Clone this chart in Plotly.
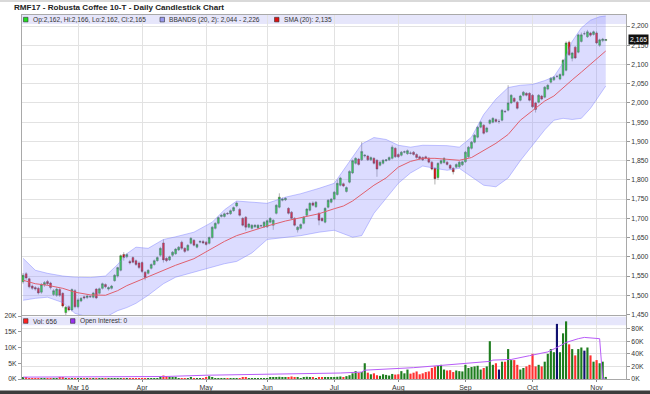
import plotly.graph_objects as go
import pandas as pd

# ---------------- data ----------------
opens = [1535,1556,1543,1524,1520,1518,1508,1527,1536,1532,1502,1500,1515,1505,1455,1470,1462,1512,
         1470,1485,1496,1494,1497,1495,1516,1505,1518,1528,1516,1518,1538,1550,1565,1606,1600,1588,1598,1590,1584,
         1585,1560,1557,1570,1580,1590,1604,1636,1596,1592,1604,1608,1618,1638,1622,1617,1635,1643,1625,1638,1640,
         1638,1635,1650,1674,1687,1705,1705,1713,1712,1720,1732,1723,1700,1703,1677,1674,1678,1675,1680,1678,
         1678,1690,1682,1713,1729,1747,1748,1726,1716,1700,1670,1674,1687,1708,1721,1740,1730,1713,1700,1690,1729,1742,
         1750,1762,1786,1790,1770,1794,1818,1843,1854,1852,1862,1862,1852,1856,1851,1838,1843,1850,1852,1856,1882,
         1866,1864,1872,1868,1870,1872,1866,1860,1858,1860,1856,1846,1830,1806,1843,1845,1846,1838,1830,1833,1834,1839,
         1847,1860,1882,1898,1911,1937,1942,1925,1947,1950,1957,1952,1955,1978,1981,2000,2012,2002,2007,2020,2025,2025,
         2020,2000,2002,2018,2015,2036,2054,2060,2069,2062,2072,2085,2158,2116,2145,2132,2160,2180,2172,2182,2178,
         2182,2150,2162,2162]
highs = [1558,1560,1546,1528,1524,1522,1532,1537,1540,1535,1516,1520,1519,1508,1472,1474,1518,1516,
         1492,1496,1499,1501,1500,1509,1519,1520,1533,1531,1523,1527,1555,1574,1606,1612,1609,1592,1601,1593,1588,
         1588,1563,1568,1583,1593,1601,1626,1645,1599,1603,1615,1623,1628,1642,1625,1633,1651,1646,1635,1643,1644,
         1641,1653,1680,1690,1705,1711,1715,1716,1723,1731,1744,1727,1703,1706,1688,1685,1685,1685,1684,1693,
         1697,1703,1698,1737,1765,1754,1755,1729,1719,1703,1680,1687,1706,1727,1742,1744,1745,1716,1703,1729,1750,1753,
         1771,1800,1808,1793,1783,1825,1853,1859,1857,1898,1867,1865,1861,1859,1854,1849,1854,1854,1861,1890,1885,
         1869,1875,1876,1879,1874,1875,1869,1863,1861,1863,1859,1849,1833,1846,1853,1859,1849,1841,1833,1843,1849,1850,
         1875,1888,1901,1919,1940,1953,1945,1938,1958,1963,1960,1958,1984,1982,2046,2023,2015,2005,2021,2031,2028,2028,
         2023,2003,2023,2021,2044,2049,2067,2070,2073,2077,2114,2160,2162,2133,2148,2180,2183,2186,2190,2185,2188,
         2186,2167,2169,2166]
lows = [1530,1540,1518,1514,1512,1502,1504,1522,1526,1515,1498,1496,1496,1468,1448,1458,1458,1466,
        1466,1482,1489,1490,1493,1492,1490,1502,1515,1518,1512,1515,1535,1546,1562,1590,1596,1580,1583,1576,1568,
        1558,1539,1554,1567,1577,1587,1600,1585,1586,1589,1600,1605,1615,1618,1610,1614,1632,1627,1622,1635,1633,
        1629,1632,1647,1671,1684,1702,1702,1709,1709,1717,1729,1705,1679,1668,1674,1671,1675,1672,1677,1675,
        1675,1687,1670,1710,1726,1744,1745,1710,1697,1679,1663,1671,1684,1705,1718,1731,1727,1682,1691,1687,1726,1739,
        1747,1759,1783,1781,1767,1791,1815,1840,1837,1849,1858,1849,1849,1840,1808,1835,1840,1847,1849,1853,1857,
        1857,1861,1869,1865,1866,1863,1855,1852,1849,1853,1843,1825,1788,1800,1840,1842,1837,1827,1814,1830,1831,1836,
        1844,1857,1879,1895,1908,1934,1918,1922,1944,1947,1949,1946,1952,1975,1978,1997,2001,1983,2004,2017,2017,2004,
        1987,1975,1999,2007,2012,2033,2051,2057,2065,2059,2069,2082,2122,2108,2114,2129,2157,2176,2169,2172,2175,
        2153,2146,2158,2162]
closes = [1552,1545,1522,1518,1516,1506,1528,1533,1530,1520,1512,1516,1500,1472,1469,1462,1515,1470,
          1488,1492,1493,1498,1496,1506,1493,1517,1530,1522,1520,1524,1552,1572,1603,1598,1606,1584,1586,1580,1572,
          1562,1546,1565,1580,1590,1598,1622,1592,1590,1600,1612,1620,1625,1622,1614,1630,1648,1630,1632,1640,1636,
          1632,1650,1677,1687,1702,1708,1712,1712,1720,1728,1740,1708,1682,1677,1685,1682,1682,1682,1681,1690,
          1694,1700,1695,1734,1755,1750,1752,1713,1700,1682,1677,1684,1703,1724,1739,1734,1742,1695,1694,1726,1747,1750,
          1768,1791,1805,1784,1780,1822,1850,1856,1840,1874,1864,1852,1858,1843,1828,1846,1851,1852,1858,1885,1860,
          1860,1872,1873,1876,1869,1866,1858,1855,1852,1856,1846,1828,1803,1843,1850,1856,1840,1830,1821,1840,1846,1847,
          1872,1885,1898,1916,1937,1950,1921,1935,1955,1960,1952,1952,1981,1977,2000,2020,2004,1986,2018,2028,2020,2007,
          1990,1983,2020,2010,2041,2046,2064,2067,2069,2074,2111,2156,2125,2130,2117,2177,2177,2180,2185,2176,2185,
          2156,2164,2166,2165]
volumes = [500,600,150,100,120,80,200,100,90,150,300,200,350,400,300,250,200,300,
           250,150,200,100,150,80,200,120,100,150,200,100,80,120,200,100,150,250,120,100,150,
           150,200,100,150,120,300,600,1100,900,700,500,400,300,200,300,250,400,200,300,150,250,
           400,900,500,300,200,250,300,200,150,200,300,250,350,400,300,200,250,300,200,150,
           300,400,500,600,700,500,400,600,800,500,400,300,600,700,500,400,300,350,400,450,500,600,
           500,700,800,600,900,1200,1800,2500,2000,2200,5000,2000,1500,1800,1200,1000,1500,1300,1100,1600,1400,
           1500,2500,1800,3000,1700,2000,2400,1500,1800,2200,2400,3500,4000,4200,4500,3000,2700,2800,2200,2700,2500,2400,
           4500,3500,3800,4000,4200,3000,3500,4000,12000,4500,5000,3000,5500,5500,9500,6000,6000,4500,3000,3500,4000,4500,
           8000,4000,4500,4000,5500,8000,9500,8500,17500,8500,14500,18300,11000,9500,7500,9500,10000,9000,10000,7500,5500,
           6000,5000,5500,656]

holidays = ["2016-03-25", "2016-03-28", "2016-05-02", "2016-05-30", "2016-08-29"]
first_day, last_day = "2016-02-04", "2016-11-04"

# indicator readings (trading-day index -> value)
ind_idx  = [0,4,8,13,17,22,27,31,34,37,41,46,50,56,62,66,70,75,80,86,91,97,102,105,108,111,115,119,123,127,
            131,135,139,143,147,151,155,159,163,167,171,174,177,180,183,186,189,191]
sma_vals = [1539,1530,1526,1518,1508,1501,1500,1512,1525,1535,1550,1565,1578,1595,1622,1640,1655,1668,1680,1693,
            1702,1712,1725,1732,1745,1762,1786,1805,1833,1848,1856,1856,1853,1851,1858,1876,1895,1918,1955,1980,
            2005,2018,2040,2060,2080,2100,2120,2135]
bb_upper = [1596,1565,1557,1550,1547,1546,1550,1580,1608,1625,1622,1645,1652,1664,1690,1722,1745,1742,1739,1755,
            1764,1778,1791,1825,1859,1893,1910,1905,1890,1885,1890,1890,1889,1885,1911,1970,2010,2040,2046,2048,
            2058,2068,2104,2160,2195,2215,2224,2226]
bb_lower = [1487,1492,1495,1481,1453,1442,1443,1460,1468,1479,1500,1530,1547,1560,1572,1582,1588,1610,1645,1651,
            1655,1664,1669,1660,1651,1655,1713,1752,1791,1818,1836,1830,1825,1830,1807,1786,1782,1805,1850,1890,
            1930,1955,1960,1957,1960,1986,2020,2044]

oi_idx  = [0,47,60,81,104,111,112,128,142,153,154,160,166,172,175,178,182,184,189,190,191]
oi_vals = [3000,4000,6000,7500,9500,11000,14000,18000,24000,28000,30000,31000,37000,43000,50000,58000,64000,66000,64000,0,0]

month_labels = ["Mar 16", "Apr", "May", "Jun", "Jul", "Aug", "Sep", "Oct", "Nov"]
price_ticks = list(range(1450, 2201, 50))
vol_ticks = [0, 5000, 10000, 15000, 20000]
vol_tick_text = ["0K", "5K", "10K", "15K", "20K"]
oi_ticks = [0, 20000, 40000, 60000, 80000]
oi_tick_text = ["0K", "20K", "40K", "60K", "80K"]

# ---------------- build ----------------
dates = [d.strftime("%Y-%m-%d") for d in pd.bdate_range(first_day, last_day)
         if d.strftime("%Y-%m-%d") not in holidays]
assert len(dates) == len(opens) == len(closes) == len(highs) == len(lows) == len(volumes)

month_firsts = []
prev = dates[0][:7]
for d in dates[1:]:
    if d[:7] != prev:
        month_firsts.append(d)
        prev = d[:7]

ind_x = [dates[i] for i in ind_idx]
oi_x = [dates[i] for i in oi_idx]

vol_colors = []
for o, c in zip(opens, closes):
    if c > o:
        vol_colors.append("#1e7d1e")
    elif c < o:
        vol_colors.append("#ff3030")
    else:
        vol_colors.append("#101070")

W, H = 650, 394
ML, MR, MT, MB = 22, 24, 15, 15
PW, PH = W - ML - MR, H - MT - MB


def px(x):
    return (x - ML) / PW


def py(y):
    return (H - MB - y) / PH


FONT = "Liberation Sans, Arial, sans-serif"
GRID = "#e2e2e2"
BORDER = "#a9a9a9"

fig = go.Figure()

fig.add_trace(go.Scatter(x=ind_x, y=bb_upper, mode="lines",
                         line=dict(color="rgba(120,125,255,0.55)", width=0.8),
                         xaxis="x", yaxis="y", hoverinfo="skip", showlegend=False))
fig.add_trace(go.Scatter(x=ind_x, y=bb_lower, mode="lines", fill="tonexty",
                         fillcolor="rgba(140,140,255,0.30)",
                         line=dict(color="rgba(120,125,255,0.55)", width=0.8),
                         xaxis="x", yaxis="y", hoverinfo="skip", showlegend=False))
fig.add_trace(go.Scatter(x=ind_x, y=sma_vals, mode="lines",
                         line=dict(color="#e0606e", width=1),
                         xaxis="x", yaxis="y", showlegend=False))
fig.add_trace(go.Candlestick(x=dates, open=opens, high=highs, low=lows, close=closes,
                             increasing=dict(fillcolor="#1fe01f", line=dict(color="#3a3a3a", width=0.4)),
                             decreasing=dict(fillcolor="#f01010", line=dict(color="#3a3a3a", width=0.4)),
                             whiskerwidth=0, xaxis="x", yaxis="y", showlegend=False))
fig.add_trace(go.Bar(x=dates, y=volumes, marker=dict(color=vol_colors, line=dict(width=0)),
                     xaxis="x2", yaxis="y2", showlegend=False))
fig.add_trace(go.Scatter(x=oi_x, y=oi_vals, mode="lines",
                         line=dict(color="#b85cf8", width=1),
                         xaxis="x2", yaxis="y3", showlegend=False))

main_bottom = py(315)
vol_top = py(316)
xrange_ = [-0.36, -0.36 + PW / 3.0505]

common_x = dict(type="category", categoryorder="array", categoryarray=dates,
                range=xrange_, tickvals=month_firsts, showgrid=True, gridcolor=GRID,
                gridwidth=1, showline=True, mirror=True, linecolor=BORDER, linewidth=1,
                zeroline=False, fixedrange=True, automargin=False)

fig.update_layout(
    width=W, height=H,
    margin=dict(l=ML, r=MR, t=MT, b=MB, pad=0, autoexpand=False),
    paper_bgcolor="white", plot_bgcolor="white",
    font=dict(family=FONT, size=7, color="#333"),
    showlegend=False, bargap=0.3, boxgap=0.12,
    xaxis=dict(common_x, domain=[0, 1], anchor="y", showticklabels=False,
               rangeslider=dict(visible=False), ticks=""),
    xaxis2=dict(common_x, domain=[0, 1], anchor="y2", matches="x", showticklabels=True,
                ticktext=month_labels, ticks="outside", ticklen=2, tickcolor="#888",
                tickfont=dict(size=7, color="#333")),
    yaxis=dict(domain=[main_bottom, 1], anchor="x", side="right",
               range=[1448.7, 2228.6], tickvals=price_ticks, tickformat=",d",
               showgrid=True, gridcolor=GRID, showline=True, mirror=True,
               linecolor=BORDER, ticks="outside", ticklen=3, tickcolor="#999",
               tickfont=dict(size=6.8, color="#333"), zeroline=False, automargin=False),
    yaxis2=dict(domain=[0, vol_top], anchor="x2", side="left",
                range=[0, 20000], tickvals=vol_ticks, ticktext=vol_tick_text,
                showgrid=False, showline=True, mirror=True, linecolor=BORDER,
                ticks="outside", ticklen=3, tickcolor="#999",
                tickfont=dict(size=6.8, color="#333"), zeroline=False, automargin=False),
    yaxis3=dict(overlaying="y2", anchor="x2", side="right",
                range=[0, 100000], tickvals=oi_ticks, ticktext=oi_tick_text,
                showgrid=True, gridcolor=GRID, showline=False,
                ticks="outside", ticklen=3, tickcolor="#999",
                tickfont=dict(size=6.8, color="#333"), zeroline=False, automargin=False),
)

shapes = []
# legend bands
shapes.append(dict(type="rect", xref="paper", yref="paper", x0=0, x1=1, y0=py(24), y1=py(15),
                   fillcolor="#e6e6fb", line=dict(width=0), layer="between"))
shapes.append(dict(type="rect", xref="paper", yref="paper", x0=0, x1=1, y0=py(325.3), y1=py(316.7),
                   fillcolor="#e6e6fb", line=dict(width=0), layer="between"))
# page strips
shapes.append(dict(type="rect", xref="paper", yref="paper", x0=px(0), x1=px(W), y0=py(2), y1=py(0),
                   fillcolor="#d9d9d9", line=dict(width=0), layer="above"))
shapes.append(dict(type="rect", xref="paper", yref="paper", x0=px(0), x1=px(W), y0=py(H), y1=py(390.5),
                   fillcolor="#3c3c3c", line=dict(width=0), layer="above"))


def legend_item(xs, yc, color, text):
    shapes.append(dict(type="rect", xref="paper", yref="paper",
                       x0=px(xs), x1=px(xs + 4.5), y0=py(yc + 2.3), y1=py(yc - 2.3),
                       fillcolor=color, line=dict(color="#333", width=0.6), layer="above"))
    fig.add_annotation(xref="paper", yref="paper", x=px(xs + 7), y=py(yc), text=text,
                       showarrow=False, xanchor="left", yanchor="middle",
                       font=dict(size=6.6, color="#333", family=FONT))


legend_item(23.5, 19.6, "#22dd22", "Op:2,162, Hi:2,166, Lo:2,162, Cl:2,165")
legend_item(160, 19.6, "#9a9af0", "BBANDS (20, 2): 2,044 - 2,226")
legend_item(274.5, 19.6, "#dd1111", "SMA (20): 2,135")
legend_item(23.5, 321, "#ff2020", "Vol: 656")
legend_item(70.5, 321, "#9a30f0", "Open Interest: 0")

fig.add_annotation(xref="paper", yref="paper", x=px(12), y=py(7.5),
                   text="<b>RMF17 - Robusta Coffee 10-T - Daily Candlestick Chart</b>",
                   showarrow=False, xanchor="left", yanchor="middle",
                   font=dict(size=8.1, color="#222", family=FONT))
fig.add_annotation(xref="paper", yref="y", x=1, y=closes[-1], text="{:,}".format(closes[-1]),
                   showarrow=False, xanchor="left", yanchor="middle", xshift=2,
                   bgcolor="#111", borderpad=1,
                   font=dict(size=6.8, color="white", family=FONT))

fig.update_layout(shapes=shapes)
fig.write_html("out.html", config={"displayModeBar": False},
               post_script="document.body.style.margin='0px';document.body.style.overflow='hidden';")
